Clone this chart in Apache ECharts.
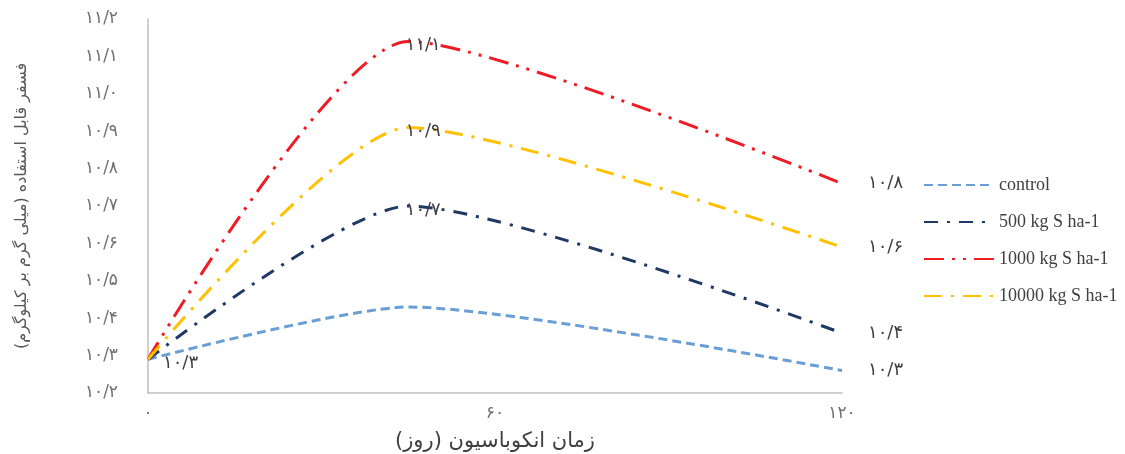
<!DOCTYPE html>
<html>
<head>
<meta charset="utf-8">
<script src="https://cdn.jsdelivr.net/npm/echarts@6/dist/echarts.min.js"></script>
<style>
  html, body { margin: 0; padding: 0; background: #ffffff; }
  #chart { width: 1125px; height: 454px; }
</style>
</head>
<body>
<div id="chart"></div>
<script>
// Incubation days sampled
const days = [0, 45, 120];

// Available phosphorus (mg/kg) per sulfur treatment
const control = [10.29, 10.43, 10.26];
const s500 = [10.29, 10.70, 10.36];
const s1000 = [10.29, 11.14, 10.76];
const s10000 = [10.29, 10.91, 10.59];

const seriesNames = ['control', '500 kg S ha-1', '1000 kg S ha-1', '10000 kg S ha-1'];

// Which points carry a value label: start, middle, end
const labelFlags = {
  control: [true, false, true],
  s500: [false, true, true],
  s1000: [false, true, true],
  s10000: [false, true, true]
};

const yAxisTitle = 'فسفر قابل استفاده (میلی گرم بر کیلوگرم)\u200F';
const xAxisTitle = 'زمان انکوباسیون (روز)\u200F';

const faDigits = '۰۱۲۳۴۵۶۷۸۹';
function toFa(str) {
  return String(str).replace(/\d/g, d => faDigits[+d]).replace('.', '/');
}

const persianFont = '"DejaVu Sans", sans-serif';

function buildData(values, flags) {
  return values.map((v, i) => {
    const item = { value: [days[i], v] };
    if (flags[i]) {
      let lab;
      if (i === 0) lab = { position: 'right', distance: 15, offset: [0, 4] };
      else if (i === days.length - 1) lab = { position: 'right', distance: 26 };
      else lab = { position: 'inside', offset: [15, 4] };
      item.label = Object.assign({ show: true }, lab);
    } else {
      item.label = { show: false };
    }
    return item;
  });
}

function lineSeries(name, values, flags, color, dash) {
  return {
    name: name,
    type: 'line',
    smooth: 0.22,
    showSymbol: true,
    symbol: 'circle',
    symbolSize: 0,
    data: buildData(values, flags),
    lineStyle: { color: color, width: 3, type: dash, cap: 'butt' },
    itemStyle: { color: color },
    label: {
      formatter: p => toFa(p.value[1].toFixed(1)),
      color: '#404040',
      fontSize: 18,
      fontFamily: persianFont
    },
    z: 3
  };
}

const chart = echarts.init(document.getElementById('chart'), null, { renderer: 'canvas' });

chart.setOption({
  animation: false,
  backgroundColor: '#ffffff',
  grid: { left: 148, right: 283, top: 19, bottom: 61, containLabel: false, outerBoundsMode: 'none' },
  legend: {
    orient: 'vertical',
    left: 918,
    top: 171,
    padding: 5,
    itemWidth: 70,
    itemHeight: 12,
    itemGap: 19,
    data: seriesNames,
    itemStyle: { opacity: 0 },
    textStyle: { fontFamily: '"Liberation Serif", serif', fontSize: 18, color: '#404040' }
  },
  xAxis: {
    type: 'value',
    min: 0,
    max: 120,
    interval: 60,
    name: xAxisTitle,
    nameLocation: 'middle',
    nameGap: 38,
    nameTextStyle: { fontFamily: persianFont, fontSize: 21, color: '#404040' },
    axisLine: { show: true, lineStyle: { color: '#bfbfbf', width: 1.5 } },
    axisTick: { show: false },
    splitLine: { show: false },
    axisLabel: {
      formatter: v => toFa(v),
      fontFamily: persianFont,
      fontSize: 17,
      color: '#707070',
      margin: 12
    }
  },
  yAxis: {
    type: 'value',
    min: 10.2,
    max: 11.2,
    interval: 0.1,
    name: yAxisTitle,
    nameLocation: 'middle',
    nameGap: 118,
    nameTextStyle: { fontFamily: persianFont, fontSize: 16, color: '#595959' },
    axisLine: { show: true, lineStyle: { color: '#bfbfbf', width: 1.5 } },
    axisTick: { show: false },
    splitLine: { show: false },
    axisLabel: {
      formatter: v => toFa(v.toFixed(1)),
      fontFamily: persianFont,
      fontSize: 17,
      color: '#707070',
      margin: 30
    }
  },
  series: [
    lineSeries(seriesNames[0], control, labelFlags.control, '#6a9fd6', [9, 5]),
    lineSeries(seriesNames[1], s500, labelFlags.s500, '#1f3864', [14, 9, 3, 9]),
    lineSeries(seriesNames[2], s1000, labelFlags.s1000, '#ee1c25', [20, 8, 3, 8, 3, 8]),
    lineSeries(seriesNames[3], s10000, labelFlags.s10000, '#ffc000', [18, 9, 3, 9])
  ]
});
</script>
</body>
</html>
